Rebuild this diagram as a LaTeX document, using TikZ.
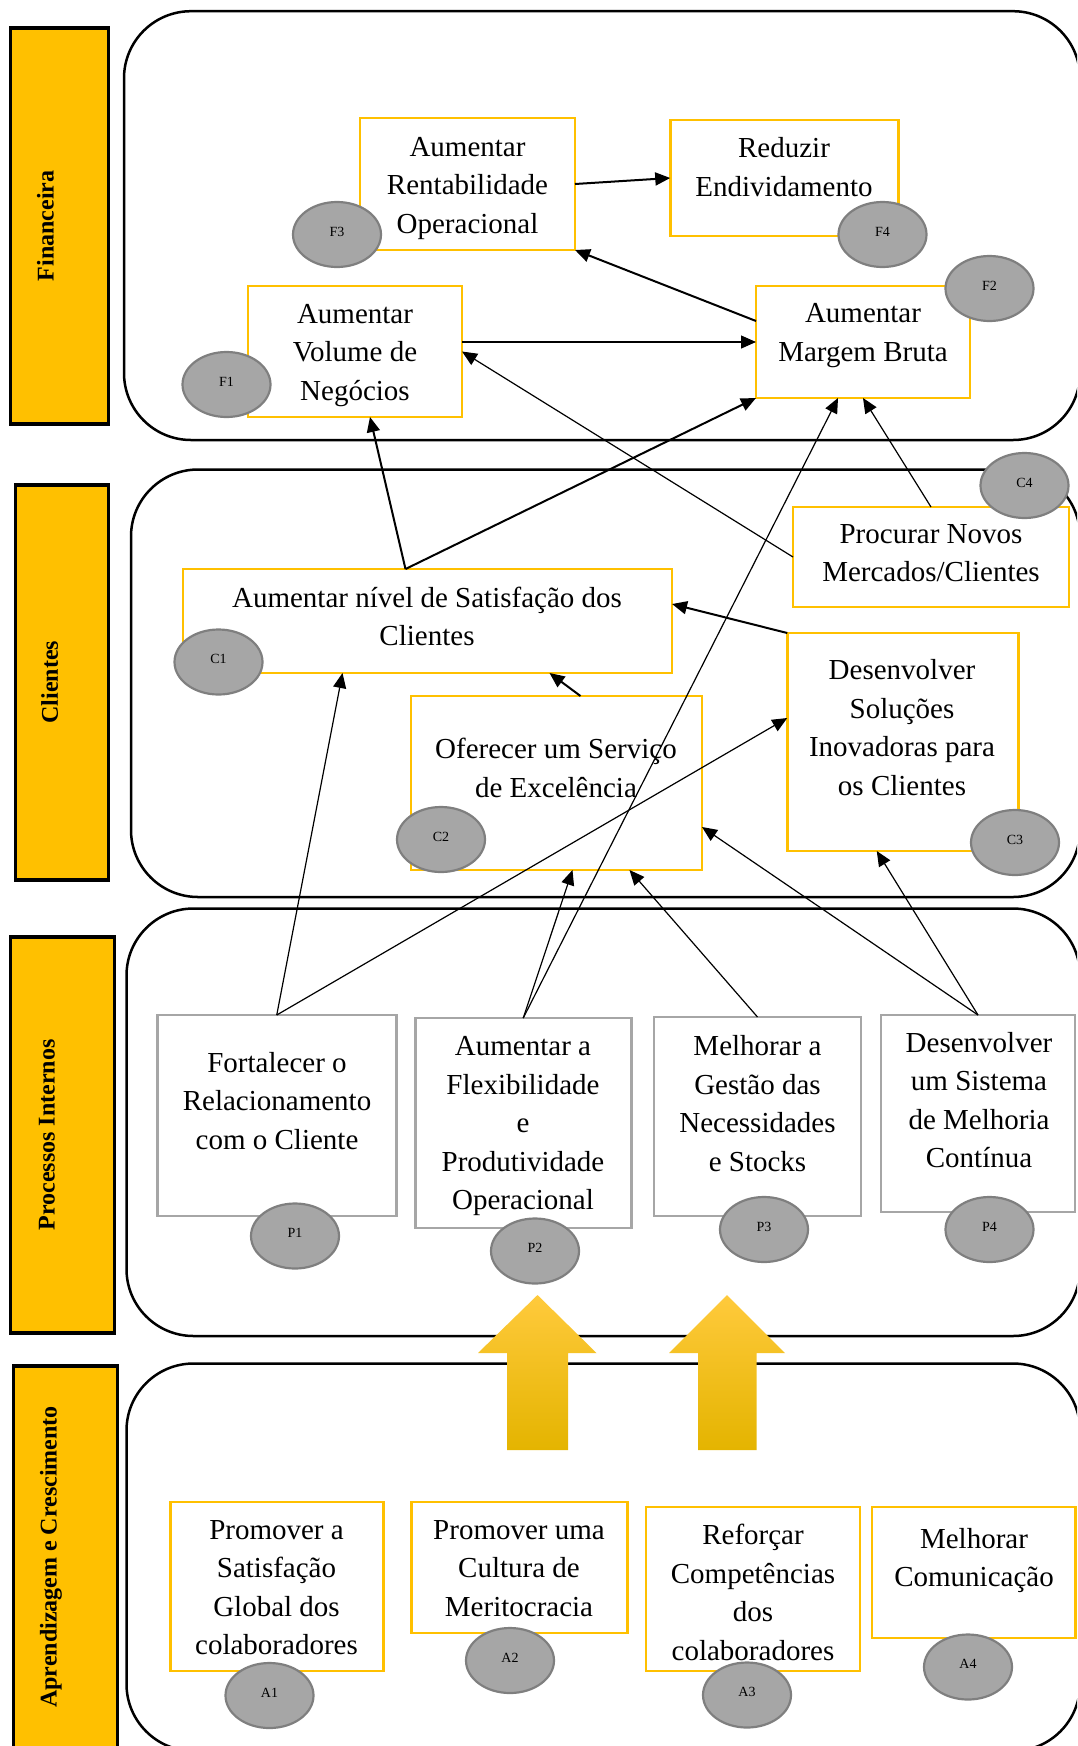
\documentclass[tikz,border=0pt]{standalone}
\usepackage{fontspec}
\setmainfont{Liberation Serif}
\usetikzlibrary{arrows.meta,shapes.geometric,calc}
\definecolor{gold}{HTML}{FFC000}
\definecolor{boxgray}{HTML}{A6A6A6}
\definecolor{tokenfill}{HTML}{A6A6A6}
\definecolor{tokenline}{HTML}{7F7F7F}
\definecolor{arrowtop}{HTML}{FFCA3C}
\definecolor{arrowbot}{HTML}{E4B400}

\begin{document}
\begin{tikzpicture}[x=1pt,y=-1pt,
  bar/.style={draw=black, line width=3.5pt, fill=gold},
  barlabel/.style={rotate=90, font=\fontsize{24}{28}\selectfont\bfseries, inner sep=0pt},
  panel/.style={draw=black, line width=2.5pt, rounded corners=67pt},
  ybox/.style={draw=gold, line width=2.5pt, rectangle, inner sep=0pt, outer sep=0pt},
  gbox/.style={draw=boxgray, line width=2.5pt, rectangle, inner sep=0pt, outer sep=0pt},
  txt/.style={font=\fontsize{29}{38.5}\selectfont, align=center, inner sep=0pt,
    yshift=-5pt, execute at begin node=\strut, execute at end node=\strut},
  token/.style={ellipse, draw=tokenline, fill=tokenfill, line width=2.2pt,
    minimum width=88pt, minimum height=65pt, inner sep=0pt,
    font=\fontsize{14}{16}\selectfont, text height=10pt, text depth=7pt},
  link/.style={-{Triangle[length=15pt,width=13pt]}, line width=1.2pt},
  thick link/.style={link, line width=2pt},
]
\useasboundingbox (0,0) rectangle (1077,1746);
\clip (0,0) rectangle (1077,1746);

% perspective bars
\draw[bar] (10.3,27.8) rectangle (108.3,424.2);
\draw[bar] (15.5,484.8) rectangle (108.3,880.2);
\draw[bar] (10.3,936.8) rectangle (114.3,1333.2);
\draw[bar] (13.7,1365.8) rectangle (117.3,1770);
\node[barlabel] (fint) at (45.5,226) {Financeira};
\node[barlabel] (clit) at (49.7,682) {Clientes};
\node[barlabel] (prot) at (47,1135) {Processos Internos};
\node[barlabel] (aprt) at (51,1557) {Aprendizagem e Crescimento};

% perspective panels
\draw[panel] (124,11.2) rectangle (1080,440);
\draw[panel] (131,469.5) rectangle (1080,897);
\draw[panel] (126.5,908.5) rectangle (1080,1336);
\draw[panel] (126.5,1363.5) rectangle (1080,1751);

% objective boxes
\node[ybox, minimum width=215, minimum height=132] (f3) at (467.5,184) {};
\node[ybox, minimum width=228, minimum height=116] (f4) at (784.25,178) {};
\node[ybox, minimum width=214, minimum height=131] (f1) at (355,351.5) {};
\node[ybox, minimum width=214, minimum height=112] (f2) at (863,342) {};
\node[ybox, minimum width=489, minimum height=104] (c1) at (427.5,621) {};
\node[ybox, minimum width=291, minimum height=174] (c2) at (556.5,783) {};
\node[ybox, minimum width=231, minimum height=218] (c3) at (902.75,742) {};
\node[ybox, minimum width=276, minimum height=100] (c4) at (931,557) {};
\node[gbox, minimum width=239, minimum height=201] (p1) at (276.75,1115.5) {};
\node[gbox, minimum width=216, minimum height=210] (p2) at (523.25,1123) {};
\node[gbox, minimum width=207, minimum height=199] (p3) at (757.5,1116.5) {};
\node[gbox, minimum width=194, minimum height=197] (p4) at (978,1113.5) {};
\node[ybox, minimum width=213, minimum height=169] (a1) at (276.75,1586.5) {};
\node[ybox, minimum width=216, minimum height=131] (a2) at (519.25,1567.5) {};
\node[ybox, minimum width=214, minimum height=164] (a3) at (753,1589) {};
\node[ybox, minimum width=203.5, minimum height=131] (a4) at (973.75,1572.5) {};

% objective texts
\node[txt] (f3t) at (467.5,185.7) {Aumentar\\Rentabilidade\\Operacional};
\node[txt] (f4t) at (784,167.5) {Reduzir\\Endividamento};
\node[txt] (f1t) at (355,352.7) {Aumentar\\Volume de\\Negócios};
\node[txt] (f2t) at (863,333) {Aumentar\\Margem Bruta};
\node[txt] (c1t) at (427,617) {Aumentar nível de Satisfação dos\\Clientes};
\node[txt] (c2t) at (556,768.5) {Oferecer um Serviço\\de Excelência};
\node[txt] (c3t) at (902,728) {Desenvolver\\Soluções\\Inovadoras para\\os Clientes};
\node[txt] (c4t) at (931,554) {Procurar Novos\\Mercados/Clientes};
\node[txt] (p1t) at (277,1101.3) {Fortalecer o\\Relacionamento\\com o Cliente};
\node[txt] (p2t) at (523,1124) {Aumentar a\\Flexibilidade\\e\\Produtividade\\Operacional};
\node[txt] (p3t) at (757.5,1104) {Melhorar a\\Gestão das\\Necessidades\\e Stocks};
\node[txt] (p4t) at (979,1100.75) {Desenvolver\\um Sistema\\de Melhoria\\Contínua};
\node[txt] (a1t) at (276.5,1588.5) {Promover a\\Satisfação\\Global dos\\colaboradores};
\node[txt] (a2t) at (519,1569) {Promover uma\\Cultura de\\Meritocracia};
\node[txt] (a3t) at (753,1593) {Reforçar\\Competências\\dos\\colaboradores};
\node[txt] (a4t) at (974,1558) {Melhorar\\Comunicação};

% cause-effect links
\draw[thick link] (f3.east) -- (f4.west);
\draw[thick link] ($(f2.west)+(0,-21)$) -- (f3.south east);
\draw[link] (f1.east |- f2.west) -- (f2.west);
\draw[link] (c4.west) -- (f1.east);
\coordinate (c1top) at ($(c1.north)+(-22,0)$);
\draw[thick link] (c1top) -- ($(f1.south)+(15,0)$);
\draw[thick link] (c1top) -- (f2.south west);
\draw[link] (p2.north) -- ($(f2.south)+(-25,0)$);
\draw[link] (p2.north) -- ($(c2.south)+(16,0)$);
\draw[link] (p1.north) -- ($(c1.south)+(-85,0)$);
\draw[link] (p1.north) -- ($(c3.west)+(0,-24)$);
\draw[link] (p3.north) -- ($(c2.south)+(73,0)$);
\draw[link] (p4.north) -- ($(c2.east)+(0,44)$);
\draw[link] (p4.north) -- ($(c3.south)+(-26,0)$);
\draw[thick link] ($(c2.north)+(24,0)$) -- ($(c1.south)+(122,0)$);
\draw[thick link] (c3.north west) -- ($(c1.east)+(0,-17)$);
\draw[link] (c4.north) -- (f2.south);

% objective codes
\node[token] (f3e) at (337,234.5) {F3};
\node[token] (f4e) at (882.5,234.5) {F4};
\node[token] (f1e) at (226.5,384.5) {F1};
\node[token] (f2e) at (989.5,288.5) {F2};
\node[token] (c1e) at (218.5,662) {C1};
\node[token] (c2e) at (441,839.5) {C2};
\node[token] (c3e) at (1015,842.5) {C3};
\node[token] (c4e) at (1024.5,485.5) {C4};
\node[token] (p1e) at (295,1236) {P1};
\node[token] (p2e) at (535,1251) {P2};
\node[token] (p3e) at (764,1229.5) {P3};
\node[token] (p4e) at (989.5,1229.5) {P4};
\node[token] (a1e) at (269.5,1695.5) {A1};
\node[token] (a2e) at (510,1660.5) {A2};
\node[token] (a3e) at (747,1695) {A3};
\node[token] (a4e) at (968,1667) {A4};

% block arrows from learning to processes
\shade[top color=arrowtop, middle color=gold, bottom color=arrowbot]
  (507,1450) -- (507,1353) -- (478,1353) -- (537.5,1295) -- (596.5,1353)
  -- (568,1353) -- (568,1450) -- cycle;
\shade[top color=arrowtop, middle color=gold, bottom color=arrowbot]
  (698,1450) -- (698,1353) -- (669,1353) -- (727,1295) -- (785,1353)
  -- (756.5,1353) -- (756.5,1450) -- cycle;
\end{tikzpicture}
\end{document}
